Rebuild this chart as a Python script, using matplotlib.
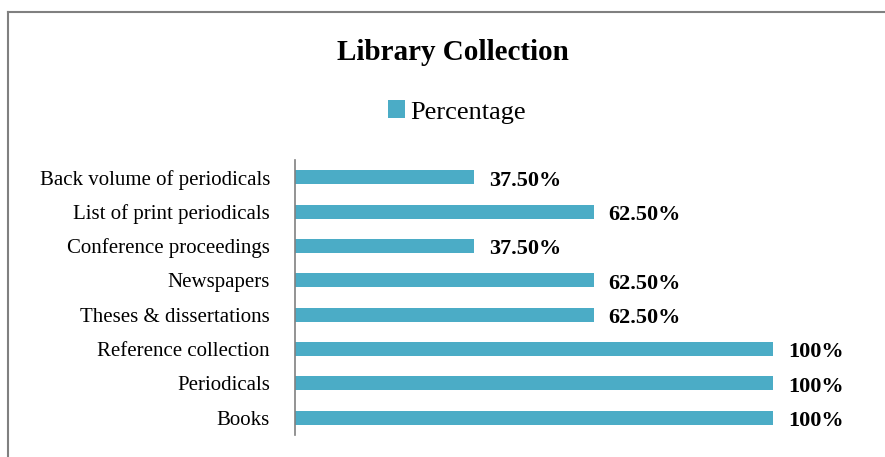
import matplotlib.pyplot as plt

categories = ['Books', 'Periodicals', 'Reference collection', 'Theses & dissertations',
              'Newspapers', 'Conference proceedings', 'List of print periodicals',
              'Back volume of periodicals']
values = [1.0, 1.0, 1.0, 0.625, 0.625, 0.375, 0.625, 0.375]
value_labels = ['100%', '100%', '100%', '62.50%', '62.50%', '37.50%', '62.50%', '37.50%']

plt.rcParams['font.family'] = ['Liberation Serif', 'DejaVu Serif']

fig = plt.figure(figsize=(8.85, 4.57), dpi=100)
ax = fig.add_axes([295/885, 1-435/457, 565/885, 275/457])

color = '#4BACC6'
ypos = range(len(categories))
ax.barh(ypos, values, height=0.41, color=color, label='Percentage')
for y, v, t in zip(ypos, values, value_labels):
    ax.text(v + 0.031, y - 0.1, t, va='center', ha='left', fontsize=16, fontweight='bold')

ax.set_xlim(0, 565/478)
ax.set_ylim(-0.5, len(categories) - 0.5)
ax.set_yticks(list(ypos))
ax.set_yticklabels(categories, fontsize=15)
ax.tick_params(axis='y', length=0, pad=18)
ax.set_xticks([])
for s in ['top', 'right', 'bottom']:
    ax.spines[s].set_visible(False)
ax.spines['left'].set_color('#808080')
ax.spines['left'].set_linewidth(1.2)

fig.text(453/885, 1-52/457, 'Library Collection', ha='center', va='center',
         fontsize=21, fontweight='bold')
fig.legend(loc='center', bbox_to_anchor=(457/885, 1-112/457), frameon=False,
           fontsize=19, handlelength=0.65, handleheight=0.65, handletextpad=0.2)

# outer frame (left and top edges visible)
fig.add_artist(plt.Line2D([8/885, 8/885], [0, 1-12/457], transform=fig.transFigure,
                          color='#808080', linewidth=1.5))
fig.add_artist(plt.Line2D([8/885, 1], [1-12/457, 1-12/457], transform=fig.transFigure,
                          color='#808080', linewidth=1.5))

fig.savefig('out.png', dpi=100)
